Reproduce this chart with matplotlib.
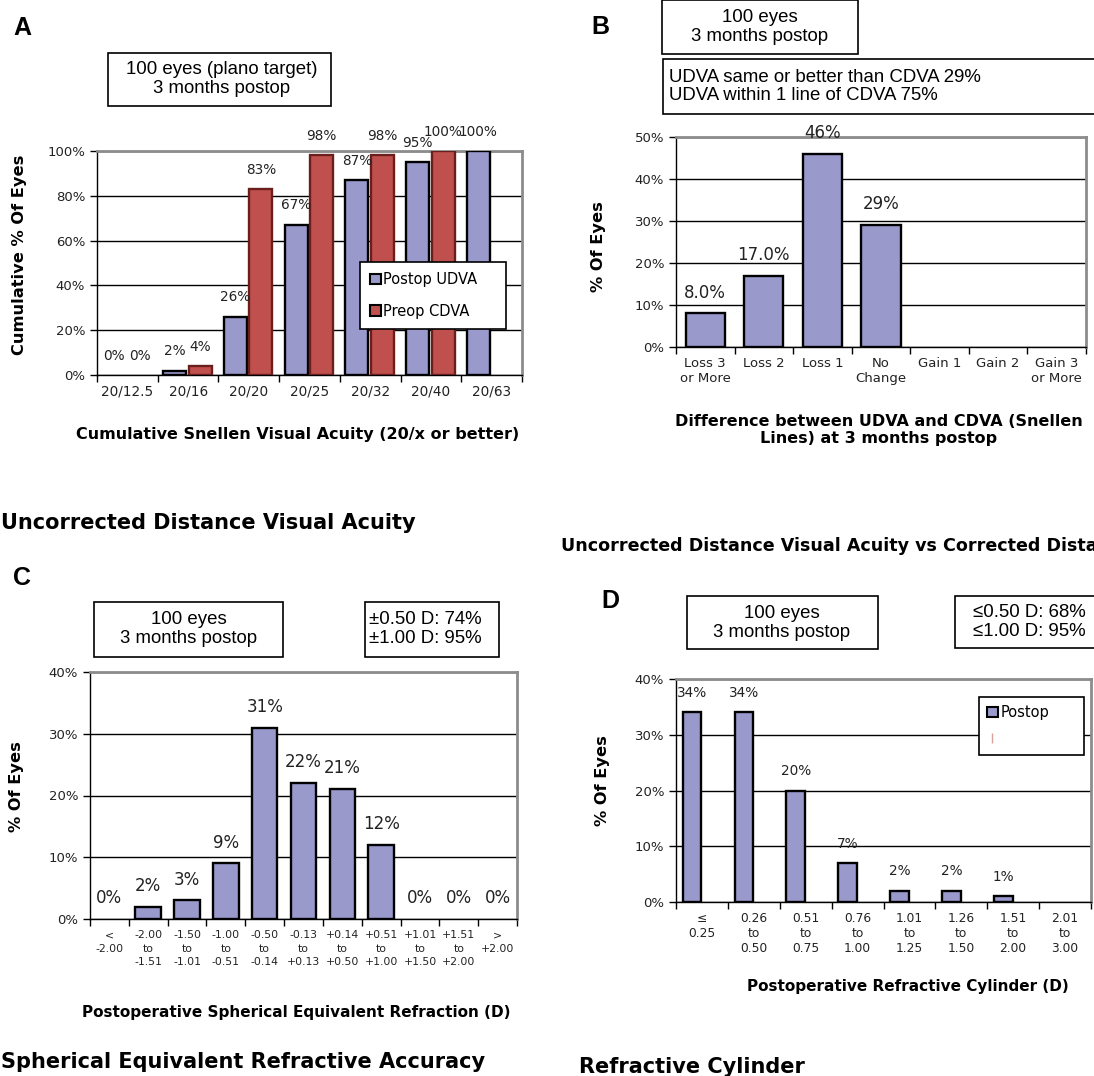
import numpy as np
import matplotlib.pyplot as plt
from matplotlib.patches import Rectangle, Patch
from matplotlib.lines import Line2D
from matplotlib.ticker import PercentFormatter

# data
a_cats = ['20/12.5', '20/16', '20/20', '20/25', '20/32', '20/40', '20/63']
a_udva = [0, 2, 26, 67, 87, 95, 100]
a_cdva = [0, 4, 83, 98, 98, 100, None]

b_cats = ['Loss 3\nor More', 'Loss 2', 'Loss 1', 'No\nChange', 'Gain 1', 'Gain 2', 'Gain 3\nor More']
b_vals = [8, 17, 46, 29, 0, 0, 0]
b_labels = ['8.0%', '17.0%', '46%', '29%', '', '', '']

c_cats = ['<\n-2.00', '-2.00\nto\n-1.51', '-1.50\nto\n-1.01', '-1.00\nto\n-0.51', '-0.50\nto\n-0.14',
          '-0.13\nto\n+0.13', '+0.14\nto\n+0.50', '+0.51\nto\n+1.00', '+1.01\nto\n+1.50',
          '+1.51\nto\n+2.00', '>\n+2.00']
c_vals = [0, 2, 3, 9, 31, 22, 21, 12, 0, 0, 0]

d_cats = ['≤\n0.25', '0.26\nto\n0.50', '0.51\nto\n0.75', '0.76\nto\n1.00', '1.01\nto\n1.25',
          '1.26\nto\n1.50', '1.51\nto\n2.00', '2.01\nto\n3.00']
d_vals = [34, 34, 20, 7, 2, 2, 1, 0]
d_labels = ['34%', '34%', '20%', '7%', '2%', '2%', '1%', '']

BLUE = '#9999CC'
RED = '#C0504D'
W, H = 1094, 1076
VERD = 'DejaVu Sans'
ARIAL = 'Liberation Sans'

fig = plt.figure(figsize=(W / 100, H / 100), dpi=100)


def px_axes(x0, y0, x1, y1):
    return fig.add_axes([x0 / W, 1 - y1 / H, (x1 - x0) / W, (y1 - y0) / H])


def ftext(x, y, s, **kw):
    kw.setdefault('ha', 'center')
    kw.setdefault('va', 'center')
    return fig.text(x / W, 1 - y / H, s, **kw)


def fbox(x0, y0, x1, y1):
    fig.patches.append(Rectangle((x0 / W, 1 - y1 / H), (x1 - x0) / W, (y1 - y0) / H,
                                 transform=fig.transFigure, facecolor='white',
                                 edgecolor='black', lw=1.2, zorder=0))


def nz(vals):
    # zero / missing bars are not drawn in the original
    return np.array([np.nan if (v is None or v == 0) else v for v in vals], dtype=float)


def style(ax, cats, ymax, ystep, tick_fs, ls=1.2, pad=4):
    n = len(cats)
    ax.set_xlim(-0.5, n - 0.5)
    ax.set_ylim(0, ymax)
    ax.set_yticks(np.arange(0, ymax + 1, ystep))
    ax.yaxis.set_major_formatter(PercentFormatter(decimals=0))
    ax.set_xticks(range(n))
    ax.set_xticklabels(cats, fontsize=tick_fs, family=VERD, linespacing=ls, color='#222222')
    ax.set_xticks(np.arange(-0.5, n, 1), minor=True)
    ax.tick_params(axis='x', which='major', length=0, pad=pad)
    ax.tick_params(axis='x', which='minor', length=5, width=1, direction='out')
    ax.tick_params(axis='y', length=5, width=1, direction='out', labelsize=9.5, labelcolor='#222222')
    for t in ax.get_yticklabels():
        t.set_family(VERD)
    ax.grid(axis='y', color='black', lw=1)
    ax.set_axisbelow(True)
    for s in ['top', 'right']:
        ax.spines[s].set_color('#8c8c8c')
        ax.spines[s].set_linewidth(2)
    for s in ['left', 'bottom']:
        ax.spines[s].set_color('black')
        ax.spines[s].set_linewidth(1)


def bar_labels(ax, xs, vals, labels, fs, off):
    for x, v, lab in zip(xs, vals, labels):
        if lab:
            ax.annotate(lab, (x, v), xytext=(0, off), textcoords='offset points',
                        ha='center', va='center', fontsize=fs, family=VERD, color='#222222')


# ---------- A ----------
ax = px_axes(97, 151, 522, 375)
x = np.arange(len(a_cats))
ax.bar(x - 0.22, nz(a_udva), 0.38, color=BLUE, edgecolor='black', lw=1.7, zorder=3)
ax.bar(x + 0.2, nz(a_cdva), 0.38, color=RED, edgecolor='#6b1f1c', lw=1.7, zorder=3)
style(ax, a_cats, 100, 20, 9.8, pad=7)
bar_labels(ax, x - 0.22, a_udva, [f'{v}%' for v in a_udva], 9.8, 14)
bar_labels(ax, x + 0.2, [0 if v is None else v for v in a_cdva],
           [None if v is None else f'{v}%' for v in a_cdva], 9.8, 14)
leg = ax.legend(handles=[Patch(facecolor=BLUE, edgecolor='black', lw=1.5),
                         Patch(facecolor=RED, edgecolor='black', lw=1.5)],
                labels=['Postop UDVA', 'Preop CDVA'],
                loc='upper left', bbox_to_anchor=(360 / W, 1 - 263 / H, 146 / W, 0.001),
                bbox_transform=fig.transFigure, mode='expand', fancybox=False,
                framealpha=1, edgecolor='black', prop={'family': VERD, 'size': 10.5},
                handlelength=0.75, handleheight=0.75, handletextpad=0.15,
                labelspacing=1.15, borderpad=0.7, borderaxespad=0)
leg.get_frame().set_linewidth(1.2)
leg.set_zorder(5)
fbox(108, 53, 331, 106)
ftext(222, 79, '100 eyes (plano target)\n3 months postop', fontsize=13.4, family=ARIAL, linespacing=1.15)
ftext(20, 255, 'Cumulative % Of Eyes', rotation=90, fontsize=11.7, weight='bold', family=VERD)
ftext(298, 435, 'Cumulative Snellen Visual Acuity (20/x or better)', fontsize=11.5, weight='bold', family=VERD)
ftext(22, 28, 'A', fontsize=18, weight='bold', family=ARIAL)
ftext(1, 523, 'Uncorrected Distance Visual Acuity', ha='left', fontsize=15, weight='bold', family=VERD)

# ---------- B ----------
ax = px_axes(676, 137, 1086, 347)
x = np.arange(len(b_cats))
ax.bar(x, nz(b_vals), 0.67, color=BLUE, edgecolor='black', lw=1.7, zorder=3)
style(ax, b_cats, 50, 10, 9.5, ls=1.25, pad=7)
bar_labels(ax, x, b_vals, b_labels, 12, 15)
fbox(662, 0.5, 858, 54)
ftext(760, 27, '100 eyes\n3 months postop', fontsize=13.4, family=ARIAL, linespacing=1.15)
fbox(663, 59, 1110, 114)
ftext(669, 86.5, 'UDVA same or better than CDVA 29%\nUDVA within 1 line of CDVA 75%',
      ha='left', fontsize=13.4, family=ARIAL, linespacing=1.15)
ftext(598, 247, '% Of Eyes', rotation=90, fontsize=11.7, weight='bold', family=VERD)
ftext(879, 430, 'Difference between UDVA and CDVA (Snellen\nLines) at 3 months postop',
      fontsize=11.5, weight='bold', family=VERD, linespacing=1.1)
ftext(600, 27, 'B', fontsize=18, weight='bold', family=ARIAL)
ftext(561, 546, 'Uncorrected Distance Visual Acuity vs Corrected Distance Visual Acuity',
      ha='left', fontsize=12.6, weight='bold', family=VERD)

# ---------- C ----------
ax = px_axes(90, 672, 517, 919)
x = np.arange(len(c_cats))
ax.bar(x, nz(c_vals), 0.66, color=BLUE, edgecolor='black', lw=1.7, zorder=3)
style(ax, c_cats, 40, 10, 7.8, ls=1.45, pad=8)
bar_labels(ax, x, c_vals, [f'{v}%' for v in c_vals], 12, 15)
fbox(94, 602, 283, 657)
ftext(189, 629, '100 eyes\n3 months postop', fontsize=13.4, family=ARIAL, linespacing=1.15)
fbox(365, 602, 499, 657)
ftext(369, 629, '±0.50 D: 74%\n±1.00 D: 95%', ha='left', fontsize=13.4, family=ARIAL, linespacing=1.15)
ftext(17, 787, '% Of Eyes', rotation=90, fontsize=11.7, weight='bold', family=VERD)
ftext(296, 1012, 'Postoperative Spherical Equivalent Refraction (D)', fontsize=11, weight='bold', family=VERD)
ftext(22, 578, 'C', fontsize=18, weight='bold', family=ARIAL)
ftext(1, 1062, 'Spherical Equivalent Refractive Accuracy', ha='left', fontsize=15, weight='bold', family=VERD)

# ---------- D ----------
ax = px_axes(676, 679, 1091, 902)
x = np.arange(len(d_cats))
ax.bar(x - 0.19, nz(d_vals), 0.36, color=BLUE, edgecolor='black', lw=1.7, zorder=3)
style(ax, d_cats, 40, 10, 8.8, ls=1.2, pad=7)
bar_labels(ax, x - 0.19, d_vals, d_labels, 9.8, 14)
leg = ax.legend(handles=[Patch(facecolor=BLUE, edgecolor='black', lw=1.5),
                         Line2D([], [], color='#d9a0a0', marker='|', ls='none', markersize=7)],
                labels=['Postop', ''],
                loc='upper left', bbox_to_anchor=(979 / W, 1 - 698 / H, 105 / W, 0.001),
                bbox_transform=fig.transFigure, mode='expand', fancybox=False,
                framealpha=1, edgecolor='black', prop={'family': VERD, 'size': 10.5},
                handlelength=0.75, handleheight=0.75, handletextpad=0.15,
                labelspacing=0.8, borderpad=0.55, borderaxespad=0)
leg.get_frame().set_linewidth(1.2)
fbox(687, 596, 878, 649)
ftext(782, 623, '100 eyes\n3 months postop', fontsize=13.4, family=ARIAL, linespacing=1.15)
fbox(955, 596, 1110, 648)
ftext(973, 622, '≤0.50 D: 68%\n≤1.00 D: 95%', ha='left', fontsize=13.4, family=ARIAL, linespacing=1.15)
ftext(603, 781, '% Of Eyes', rotation=90, fontsize=11.7, weight='bold', family=VERD)
ftext(908, 987, 'Postoperative Refractive Cylinder (D)', fontsize=11, weight='bold', family=VERD)
ftext(610, 601, 'D', fontsize=18, weight='bold', family=ARIAL)
ftext(579, 1067, 'Refractive Cylinder', ha='left', fontsize=15, weight='bold', family=VERD)

fig.savefig('out.png', dpi=100)
